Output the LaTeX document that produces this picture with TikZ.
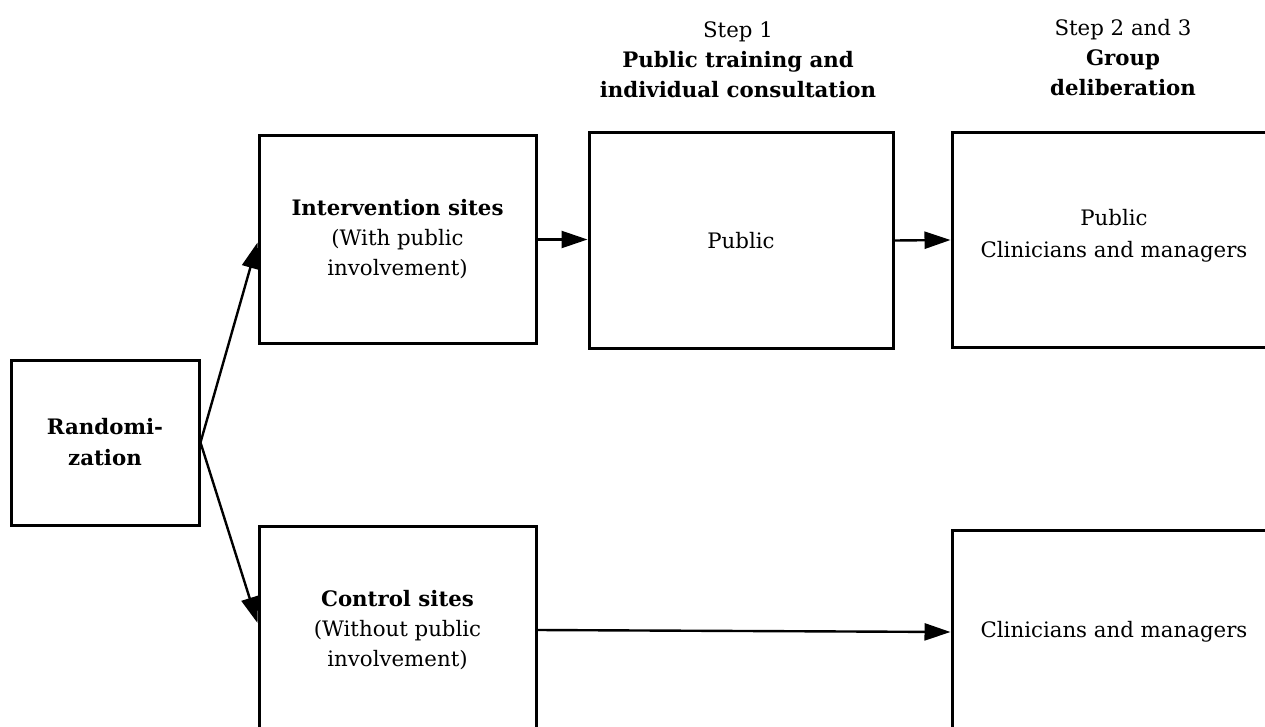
\documentclass[tikz,border=0pt]{standalone}
\usepackage{fontspec}
\setmainfont{DejaVu Serif}
\usetikzlibrary{arrows.meta,calc}
\newcommand\boxfont{\fontsize{21.3}{30}\selectfont}
\begin{document}
\begin{tikzpicture}[x=1pt,y=-1pt,
  box/.style={draw,line width=3pt,inner sep=0pt,align=center,font=\boxfont},
  head/.style={inner sep=0pt,align=center,font=\boxfont},
  conn/.style={line width=2.4pt,-{Triangle[length=26pt,width=17pt]}},
]
\useasboundingbox (0,0) rectangle (1265,727);
\clip (0,0) rectangle (1265,727);

% column headers
\node[head] (h1) at (738,60) {Step 1\\\textbf{Public training and}\\\textbf{individual consultation}};
\node[head] (h2) at (1123,58) {Step 2 and 3\\\textbf{Group}\\\textbf{deliberation}};

% boxes
\node[box,minimum width=188pt,minimum height=165pt] (rand) at (105,442.5)
  {\textbf{Randomi-}\\[1pt]\textbf{zation}};
\node[box,minimum width=277pt,minimum height=207pt] (int) at (397.5,239.5)
  {\textbf{Intervention sites}\\(With public\\involvement)};
\node[box,minimum width=304pt,minimum height=215pt] (pub) at (741,240.5) {Public};
\node[box,minimum width=324pt,minimum height=214pt] (grp) at (1114,240)
  {Public\\[2pt]Clinicians and managers\\[-25pt]\strut};
\node[box,minimum width=277pt,minimum height=208pt] (ctl) at (397.5,630)
  {\textbf{Control sites}\\(Without public\\involvement)};
\node[box,minimum width=324pt,minimum height=204pt] (cm) at (1114,632)
  {Clinicians and managers};

% connectors
\draw[conn] (rand.east) -- ($(int.west)+(0,3)$);
\draw[conn] (rand.east) -- ($(ctl.west)+(0,-7)$);
\draw[conn] (int.east) -- (int.east -| pub.west);
\draw[conn] (pub.east) -- (grp.west);
\draw[conn] (ctl.east) -- (cm.west);
\end{tikzpicture}
\end{document}
